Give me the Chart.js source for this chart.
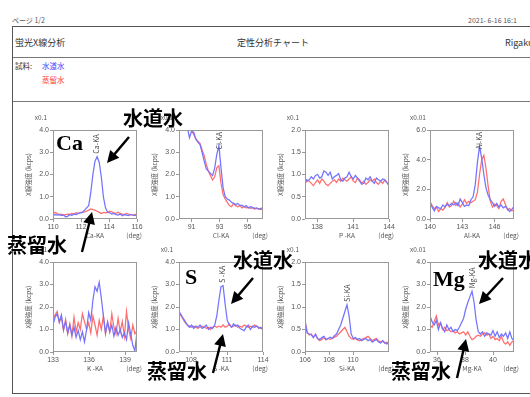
<!DOCTYPE html>
<html><head><meta charset="utf-8">
<script src="https://cdn.jsdelivr.net/npm/chart.js@4.4.1/dist/chart.umd.min.js"></script>
<style>
html,body{margin:0;padding:0;background:#fff;}
#page{position:relative;width:530px;height:397px;overflow:hidden;background:#fff;font-family:"Noto Sans CJK JP","Noto Sans",sans-serif;}
.t{position:absolute;white-space:nowrap;line-height:1;transform:translateY(-50%);color:#333;}
.big{position:absolute;white-space:nowrap;line-height:1;transform:translateY(-50%);font-weight:bold;font-size:20px;color:#000;}
.sym{position:absolute;white-space:nowrap;line-height:1;font-family:"Liberation Serif",serif;font-weight:bold;font-size:22px;color:#000;}
.frame{position:absolute;border:1.5px solid #555;}
.rule{position:absolute;height:0;border-top:1px solid #777;}
canvas{position:absolute;}
svg{position:absolute;left:0;top:0;}
</style></head><body>
<div id="page">
  <div class="t" style="left:12px;top:20px;font-size:7px;color:#555">ページ 1/2</div>
  <div class="t" style="left:468px;top:20px;font-size:7px;color:#555">2021- 6-16 16:1</div>
  <div class="frame" style="left:12px;top:26px;width:540px;height:366px"></div>
  <div class="rule" style="left:13px;top:57px;width:530px"></div>
  <div class="rule" style="left:13px;top:101px;width:530px"></div>
  <div class="t" style="left:15px;top:42px;font-size:9px">蛍光X線分析</div>
  <div class="t" style="left:273px;top:42px;font-size:9px;transform:translate(-50%,-50%)">定性分析チャート</div>
  <div class="t" style="left:505px;top:42px;font-size:9px">Rigaku</div>
  <div class="t" style="left:15px;top:66px;font-size:7.5px">試料:</div>
  <div class="t" style="left:42px;top:66px;font-size:7.5px;color:#4040ff">水道水</div>
  <div class="t" style="left:42px;top:80px;font-size:7.5px;color:#ff4040">蒸留水</div>
</div>
<script>
// Qualitative XRF scans: tap water (blue) vs distilled water (red), intensity in kcps.

// Ca-KA
const caScan = [110, 0.15];
const caTicks = [110, 112, 114, 116];
const caTap = [0.18,0.2,0.17,0.2,0.15,0.18,0.1,0.12,0.2,0.17,0.22,0.2,0.25,0.28,
  0.3,0.4,0.5,0.6,1.2,2.0,2.6,2.8,2.55,1.9,1.0,0.5,0.3,0.28,0.22,0.25,0.2,0.18,0.22,0.15,0.2,0.17,0.15,0.2,0.18,0.15,0.2];
const caDist = [0.22,0.3,0.25,0.2,0.22,0.18,0.2,0.22,0.2,0.25,0.22,0.28,0.25,0.3,0.3,0.32,0.35,0.4,0.45,0.42,
  0.4,0.35,0.3,0.25,0.3,0.28,0.3,0.35,0.32,0.28,0.25,0.3,0.25,0.22,0.2,0.25,0.22,0.2,0.18,0.2,0.22];

// Cl-KA
const clScan = [90.1, 0.15];
const clTicks = [91, 93, 95];
const clTap = [5.5,5.0,4.7,4.4,4.1,3.65,3.95,3.9,3.6,3.45,3.35,3.0,2.6,2.25,2.15,2.05,1.95,2.3,2.9,3.3,
  2.3,1.4,1.0,0.9,0.85,0.75,0.7,0.65,0.7,0.6,0.62,0.55,0.6,0.5,0.55,0.52,0.48,0.5,0.45,0.48,0.5];
const clDist = [5.5,5.0,4.7,4.4,4.2,4.1,3.95,3.8,3.6,3.5,3.4,3.1,2.85,2.45,2.15,1.95,1.75,1.9,2.3,2.4,
  1.6,1.1,0.9,0.75,0.6,0.55,0.7,0.6,0.55,0.6,0.5,0.55,0.5,0.52,0.48,0.5,0.45,0.48,0.45,0.42,0.45];

// P-KA
const pScan = [137, 0.175];
const pTicks = [138, 141, 144];
const pTap = [0.92,0.85,0.88,0.95,0.9,0.98,1.0,0.92,0.95,1.08,1.05,0.98,1.05,0.9,0.95,0.98,1.02,0.88,0.85,0.92,
  0.95,1.05,0.95,0.9,0.98,0.92,0.85,0.78,0.8,0.92,0.88,0.95,0.85,0.8,0.92,0.88,0.85,0.9,0.88,0.82,0.75];
const pDist = [0.78,0.88,0.85,0.8,0.75,0.82,0.88,0.8,0.9,0.85,0.78,0.75,0.8,0.85,0.88,0.82,0.9,0.85,0.92,0.88,
  0.85,0.9,0.95,0.85,0.82,0.92,0.88,0.8,0.85,0.78,0.82,0.88,0.85,0.9,0.82,0.78,0.85,0.8,0.88,0.82,0.75];

// Al-KA
const alScan = [140, 0.2];
const alTicks = [140, 143, 146];
const alTap = [1.1,0.8,0.55,0.85,0.75,0.7,0.95,0.8,1.0,0.9,1.05,0.95,1.1,0.9,1.35,1.1,0.85,0.95,0.9,1.3,
  1.5,2.3,3.8,4.9,4.1,3.0,2.1,1.6,1.3,1.1,0.85,1.05,0.8,0.95,0.75,0.85,0.7,0.5,0.65,0.85];
const alDist = [1.2,0.9,0.7,0.8,0.5,0.7,0.6,0.8,1.1,0.8,0.9,1.2,0.9,1.1,0.8,1.0,1.3,1.05,1.2,1.1,
  1.2,1.3,1.8,3.0,4.0,4.3,3.4,2.2,1.2,0.8,1.0,0.9,0.7,1.2,1.35,1.0,0.6,0.7,0.55,0.6];

// K-KA
const kScan = [133, 0.175];
const kTicks = [133, 136, 139];
const kTap = [1.2,1.55,1.7,1.35,1.65,1.0,1.35,0.85,1.2,0.75,1.1,0.65,0.95,0.55,0.9,0.45,1.0,1.75,1.4,2.3,
  2.9,2.7,3.1,2.4,1.6,0.85,1.35,0.9,1.2,0.7,1.1,0.75,1.0,0.65,0.85,0.55,1.3,0.8,0.3,0.05,0.9];
const kDist = [1.5,1.65,1.8,1.3,1.55,0.95,1.45,0.8,1.25,0.7,1.55,0.9,1.3,1.0,1.7,1.35,1.0,1.3,0.85,1.6,
  1.2,0.75,1.4,1.0,1.6,0.8,1.3,0.9,1.7,1.1,0.8,1.5,0.9,1.35,0.7,1.8,1.0,0.6,1.2,0.8,0.95];

// S-KA
const sScan = [107, 0.175];
const sTicks = [108, 111, 114];
const sTap = [1.8,1.65,1.5,1.35,1.2,1.1,1.2,1.05,1.15,1.1,1.2,1.05,1.1,1.2,1.0,1.1,1.05,1.2,1.6,2.3,
  2.9,2.95,2.1,1.4,1.2,1.1,1.25,1.15,1.2,1.05,1.0,0.95,1.1,1.2,1.0,1.15,1.1,1.15,1.05,1.1,1.0];
const sDist = [1.8,1.6,1.45,1.3,1.2,1.15,1.1,1.15,1.1,1.05,1.1,1.15,1.1,1.05,1.1,1.0,1.1,1.15,1.1,1.15,
  1.1,1.2,1.1,1.15,1.25,1.1,1.15,1.2,1.1,1.15,1.1,1.2,1.15,1.1,1.15,1.1,1.2,1.15,1.1,1.05,1.0];

// Si-KA
const siScan = [106, 0.175];
const siTicks = [106, 108, 110];
const siTap = [0.7,0.42,0.4,0.38,0.32,0.4,0.3,0.28,0.32,0.35,0.28,0.3,0.33,0.3,0.36,0.4,
  0.5,0.6,0.75,0.9,1.05,0.8,0.4,0.3,
  0.32,0.28,0.3,0.25,0.28,0.3,0.25,0.28,0.22,0.25,0.28,0.22,0.2,0.25,0.2,0.18,0.22];
const siDist = [0.7,0.45,0.38,0.4,0.33,0.38,0.3,0.25,0.28,0.32,0.27,0.3,0.28,0.3,0.33,0.35,0.4,0.45,0.5,0.55,
  0.45,0.35,0.3,0.28,0.3,0.27,0.25,0.28,0.3,0.32,0.35,0.3,0.25,0.28,0.3,0.25,0.22,0.25,0.2,0.22,0.2];

// Mg-KA
const mgScan = [35.5, 0.15];
const mgTicks = [36, 38, 40];
const mgTap = [1.6,1.35,1.2,1.4,1.0,1.3,1.05,0.9,1.2,1.0,1.1,0.9,1.0,0.95,1.1,1.3,1.5,1.9,2.2,2.45,
  2.7,2.2,1.4,0.9,0.8,0.9,0.7,0.85,0.8,0.75,0.95,0.7,0.9,0.65,0.8,0.7,0.85,0.6,0.9,0.6,0.5];
const mgDist = [1.2,1.1,1.35,1.6,1.2,1.3,1.0,1.1,0.95,1.0,0.9,0.95,0.85,0.9,0.8,0.85,0.9,0.75,0.9,0.7,
  0.55,0.6,0.7,0.75,0.7,0.8,0.85,0.75,0.8,0.6,0.7,0.55,0.6,0.5,0.7,0.45,0.35,0.45,0.3,0.45,0.5];

const TAP_COLOR = 'rgb(115,115,255)';
const DIST_COLOR = 'rgb(255,110,110)';

const panels = [
  {left:53,  top:130, h:89, xMin:110,  xMax:116,   scan:caScan, xTicks:caTicks, yMax:4, yStep:1,   factor:'x0.1',  line:'Ca-KA', peak:113.1,  tap:caTap, dist:caDist},
  {left:179, top:130, h:89, xMin:90.1, xMax:96.1,  scan:clScan, xTicks:clTicks, yMax:4, yStep:1,   factor:'x0.1',  line:'Cl-KA', peak:92.95,  tap:clTap, dist:clDist},
  {left:305, top:130, h:89, xMin:137,  xMax:144,   scan:pScan,  xTicks:pTicks,  yMax:2, yStep:0.5, factor:'x0.1',  line:'P -KA', peak:null,   tap:pTap,  dist:pDist},
  {left:430, top:130, h:89, xMin:140,  xMax:147.8, scan:alScan, xTicks:alTicks, yMax:6, yStep:2,   factor:'x0.01', line:'Al-KA', peak:144.6,  tap:alTap, dist:alDist},
  {left:53,  top:262, h:90, xMin:133,  xMax:140,   scan:kScan,  xTicks:kTicks,  yMax:4, yStep:1,   factor:'x0.1',  line:'K -KA', peak:null,   tap:kTap,  dist:kDist},
  {left:179, top:262, h:90, xMin:107,  xMax:114,   scan:sScan,  xTicks:sTicks,  yMax:4, yStep:1,   factor:'x0.1',  line:'S -KA', peak:110.6,  tap:sTap,  dist:sDist},
  {left:305, top:262, h:90, xMin:106,  xMax:113,   scan:siScan, xTicks:siTicks, yMax:2, yStep:0.5, factor:'x0.1',  line:'Si-KA', peak:109.5,  tap:siTap, dist:siDist},
  {left:430, top:262, h:90, xMin:35.5, xMax:41.5,  scan:mgScan, xTicks:mgTicks, yMax:4, yStep:1,   factor:'x0.01', line:'Mg-KA', peak:38.5,   tap:mgTap, dist:mgDist}
];

const PLOT_W = 84, PAD_L = 40, PAD_T = 20, PAD_R = 12, PAD_B = 26;
const SMALL_FONT = '"Noto Sans CJK JP", "Liberation Sans", sans-serif';

// Box, axis titles, scale factor and the vertical line label over the peak.
const panelDecor = {
  id: 'panelDecor',
  afterDraw(chart, args, o) {
    const {ctx, chartArea: a, scales} = chart;
    const x = scales.x, y = scales.y;
    ctx.save();
    ctx.strokeStyle = '#999';
    ctx.lineWidth = 1;
    ctx.strokeRect(a.left + 0.5, a.top + 0.5, a.right - a.left - 1, a.bottom - a.top - 1);
    ctx.fillStyle = '#555';
    ctx.font = '6.5px ' + SMALL_FONT;
    ctx.textAlign = 'center';
    ctx.textBaseline = 'middle';
    ctx.fillText(o.factor, a.left - 12, a.top - 12);
    ctx.save();
    ctx.translate(a.left - 24, (a.top + a.bottom) / 2);
    ctx.rotate(-Math.PI / 2);
    ctx.fillText('X線強度 (kcps)', 0, 0);
    ctx.restore();
    ctx.fillText(o.line, (a.left + a.right) / 2, a.bottom + 17);
    ctx.textAlign = 'right';
    ctx.fillText('(deg)', a.right + 5, a.bottom + 17);
    if (o.peak != null) {
      const data = chart.data.datasets[0].data;
      let top = 0;
      data.forEach(p => { if (Math.abs(p.x - o.peak) < 0.3) top = Math.max(top, p.y); });
      const py = y.getPixelForValue(Math.min(top, y.max));
      ctx.font = '7px ' + SMALL_FONT;
      ctx.fillStyle = '#444';
      const w = ctx.measureText(o.line).width;
      const base = Math.max(py - 3, a.top + 2 + w);
      ctx.save();
      ctx.translate(x.getPixelForValue(o.peak), base);
      ctx.rotate(-Math.PI / 2);
      ctx.textAlign = 'left';
      ctx.fillText(o.line, 0, 0);
      ctx.restore();
    }
    ctx.restore();
  }
};

const page = document.getElementById('page');

panels.forEach(p => {
  const cv = document.createElement('canvas');
  const W = PLOT_W + PAD_L + PAD_R, H = p.h + PAD_T + PAD_B;
  cv.width = W; cv.height = H;
  cv.style.left = (p.left - PAD_L) + 'px';
  cv.style.top = (p.top - PAD_T) + 'px';
  cv.style.width = W + 'px'; cv.style.height = H + 'px';
  page.appendChild(cv);
  const pts = arr => arr.map((v, i) => ({x: p.scan[0] + i * p.scan[1], y: v}));
  const tickFont = {size: 7, family: '"Liberation Sans", sans-serif'};
  new Chart(cv, {
    type: 'line',
    data: {
      datasets: [
        {label: '水道水', data: pts(p.tap), borderColor: TAP_COLOR, borderWidth: 1.25, pointRadius: 0, tension: 0},
        {label: '蒸留水', data: pts(p.dist), borderColor: DIST_COLOR, borderWidth: 1.25, pointRadius: 0, tension: 0}
      ]
    },
    options: {
      responsive: false,
      animation: false,
      devicePixelRatio: 1,
      layout: {padding: {left: 0, top: PAD_T, right: PAD_R, bottom: 0}},
      plugins: {legend: {display: false}, tooltip: {enabled: false}, panelDecor: p},
      scales: {
        x: {
          type: 'linear', min: p.xMin, max: p.xMax,
          afterBuildTicks: axis => { axis.ticks = p.xTicks.map(v => ({value: v})); },
          afterFit: s => { s.height = PAD_B; s.paddingLeft = 0; s.paddingRight = 0; },
          ticks: {autoSkip: false, maxRotation: 0, padding: 1, color: '#555', font: tickFont, callback: v => String(v)},
          grid: {display: true, drawOnChartArea: false, drawTicks: true, tickLength: 3, color: '#999'},
          border: {display: false}
        },
        y: {
          min: 0, max: p.yMax,
          afterFit: s => { s.width = PAD_L; s.paddingTop = 0; s.paddingBottom = 0; },
          ticks: {stepSize: p.yStep, padding: 1, color: '#555', font: tickFont, callback: v => v.toFixed(1)},
          grid: {display: true, drawOnChartArea: false, drawTicks: true, tickLength: 3, color: '#999'},
          border: {display: false}
        }
      }
    },
    plugins: [panelDecor]
  });
});

// Callout arrows: [tailX, tailY, tipX, tipY]
const callouts = [[129,137,107,163],[82,252,92,212],[253,278,231,304],[213,373,223,334],[503,278,479,304],[457,378,466,339]];
const NS = 'http://www.w3.org/2000/svg';
const svg = document.createElementNS(NS, 'svg');
svg.setAttribute('width', 530); svg.setAttribute('height', 397);
callouts.forEach(([x1, y1, x2, y2]) => {
  const dx = x2 - x1, dy = y2 - y1, len = Math.hypot(dx, dy);
  const ux = dx / len, uy = dy / len, hl = 12, hw = 6;
  const bx = x2 - ux * hl, by = y2 - uy * hl;
  const ln = document.createElementNS(NS, 'line');
  ln.setAttribute('x1', x1); ln.setAttribute('y1', y1);
  ln.setAttribute('x2', bx + ux); ln.setAttribute('y2', by + uy);
  ln.setAttribute('stroke', '#000'); ln.setAttribute('stroke-width', 2.4);
  svg.appendChild(ln);
  const head = document.createElementNS(NS, 'polygon');
  head.setAttribute('points', `${x2},${y2} ${bx - uy * hw},${by + ux * hw} ${bx + uy * hw},${by - ux * hw}`);
  head.setAttribute('fill', '#000');
  svg.appendChild(head);
});
page.appendChild(svg);

// Callout captions
const captions = [
  ['big', '水道水', 123, 118], ['big', '蒸留水', 7, 245],
  ['big', '水道水', 233, 260], ['big', '蒸留水', 147, 371],
  ['big', '水道水', 478, 260], ['big', '蒸留水', 391, 371]
];
captions.forEach(([cls, txt, x, y]) => {
  const d = document.createElement('div');
  d.className = cls; d.textContent = txt;
  d.style.left = x + 'px'; d.style.top = y + 'px';
  page.appendChild(d);
});
const symbols = [['Ca', 56, 132], ['S', 185, 266], ['Mg', 433, 268]];
symbols.forEach(([txt, x, y]) => {
  const d = document.createElement('div');
  d.className = 'sym'; d.textContent = txt;
  d.style.left = x + 'px'; d.style.top = y + 'px';
  page.appendChild(d);
});
</script>
</body></html>
